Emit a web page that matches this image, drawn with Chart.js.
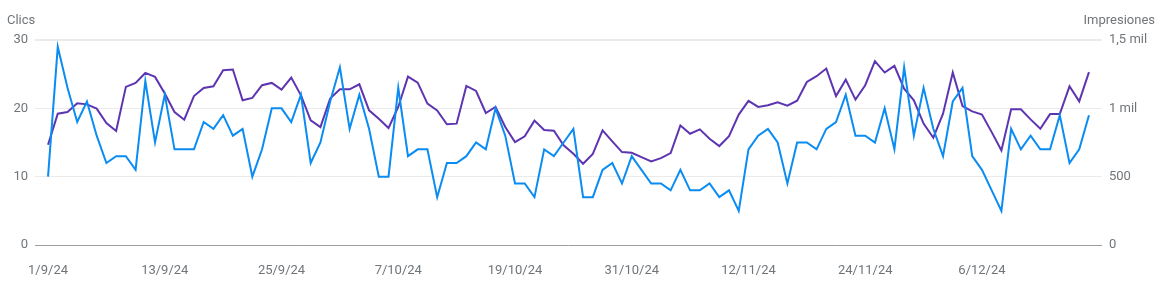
<!DOCTYPE html>
<html>
<head>
<meta charset="utf-8">
<script src="https://cdn.jsdelivr.net/npm/chart.js@4"></script>
<style>
  html, body { margin: 0; padding: 0; background: #fff; }
  #wrap { width: 1165px; height: 289px; position: relative; }
</style>
</head>
<body>
<div id="wrap"><canvas id="gscChart"></canvas></div>
<script>
// daily values, 1/9/24 .. 17/12/24
const clics = [10, 29, 23, 18, 21, 16, 12, 13, 13, 11,
  24, 15, 22, 14, 14, 14, 18, 17, 19, 16,
  17, 10, 14, 20, 20, 18, 22, 12, 15, 21,
  26, 17, 22, 17, 10, 10, 23, 13, 14, 14,
  7, 12, 12, 13, 15, 14, 20, 16, 9, 9,
  7, 14, 13, 15, 17, 7, 7, 11, 12, 9,
  13, 11, 9, 9, 8, 11, 8, 8, 9, 7,
  8, 5, 14, 16, 17, 15, 9, 15, 15, 14,
  17, 18, 22, 16, 16, 15, 20, 14, 26, 16,
  23, 17, 13, 21, 23, 13, 11, 8, 5, 17,
  14, 16, 14, 14, 19, 12, 14, 19];

const impresiones = [733, 961, 973, 1037, 1029, 998, 892, 834, 1157, 1186,
  1259, 1230, 1108, 973, 917, 1090, 1149, 1161, 1279, 1284,
  1059, 1076, 1169, 1186, 1137, 1225, 1095, 912, 863, 1071,
  1139, 1139, 1176, 985, 924, 856, 1010, 1232, 1188, 1034,
  985, 883, 888, 1164, 1127, 966, 1010, 863, 753, 795,
  910, 841, 836, 729, 667, 594, 667, 839, 758, 680,
  675, 643, 611, 636, 672, 875, 814, 846, 778, 724,
  797, 954, 1054, 1010, 1022, 1044, 1020, 1056, 1193, 1235,
  1291, 1090, 1210, 1064, 1169, 1345, 1262, 1311, 1144, 1059,
  888, 785, 961, 1262, 1017, 978, 954, 826, 692, 993,
  993, 919, 851, 958, 958, 1161, 1051, 1265];

const xTickLabels = ["1/9/24", "13/9/24", "25/9/24", "7/10/24", "19/10/24",
  "31/10/24", "12/11/24", "24/11/24", "6/12/24"];
const xTickEvery = 12;

const clicsTicks = [0, 10, 20, 30];
const impTicks = [0, 500, 1000, 1500];
const impTickLabels = ["0", "500", "1 mil", "1,5 mil"];

const days = clics.map((v, i) => i);

const FONT = { family: 'Roboto', size: 13 };
const GREY = '#70757a';

// axis titles above the plot
const axisTitles = {
  id: 'axisTitles',
  afterDraw(chart) {
    const c = chart.ctx;
    c.save();
    c.font = '13px Roboto';
    c.fillStyle = GREY;
    c.textBaseline = 'middle';
    c.textAlign = 'left';
    c.fillText('Clics', 7, 21);
    c.textAlign = 'right';
    c.fillText('Impresiones', 1155, 21);
    c.restore();
  }
};

const ctx = document.getElementById('gscChart').getContext('2d');
const gscChart = new Chart(ctx, {
  type: 'line',
  data: {
    labels: days,
    datasets: [{
      label: 'Clics',
      data: clics,
      yAxisID: 'y',
      borderColor: '#0a8cf2',
      borderWidth: 2,
      pointRadius: 0,
      tension: 0
    }, {
      label: 'Impresiones',
      data: impresiones,
      yAxisID: 'y2',
      borderColor: '#5e35b1',
      borderWidth: 2,
      pointRadius: 0,
      tension: 0
    }]
  },
  options: {
    responsive: true,
    maintainAspectRatio: false,
    animation: false,
    layout: { padding: { top: 40, left: 0, right: 0, bottom: 0 } },
    plugins: {
      legend: { display: false },
      tooltip: { enabled: false }
    },
    scales: {
      x: {
        type: 'linear',
        min: -1.34,
        max: days.length - 1 + 1.34,
        grid: { display: false },
        border: { display: false },
        afterBuildTicks: (scale) => {
          scale.ticks = xTickLabels.map((l, i) => ({ value: i * xTickEvery }));
        },
        afterFit: (scale) => { scale.height = 44; },
        ticks: {
          autoSkip: false,
          maxRotation: 0,
          padding: 10,
          color: GREY,
          font: FONT,
          callback: (v) => xTickLabels[v / xTickEvery]
        }
      },
      y: {
        position: 'left',
        min: 0,
        max: 30,
        afterBuildTicks: (scale) => {
          scale.ticks = clicsTicks.map(v => ({ value: v }));
        },
        afterFit: (scale) => { scale.width = 35; },
        border: { display: false },
        grid: {
          drawTicks: false,
          color: (c) => c.tick && c.tick.value === 0 ? '#9e9e9e' : '#ebebeb',
          lineWidth: (c) => c.tick && c.tick.value === 30 ? 2 : 1
        },
        ticks: { padding: 7, color: GREY, font: FONT }
      },
      y2: {
        position: 'right',
        min: 0,
        max: 1500,
        afterBuildTicks: (scale) => {
          scale.ticks = impTicks.map(v => ({ value: v }));
        },
        afterFit: (scale) => { scale.width = 63; },
        border: { display: false },
        grid: { display: false, drawTicks: false },
        ticks: {
          padding: 7,
          color: GREY,
          font: FONT,
          callback: (v) => impTickLabels[impTicks.indexOf(v)]
        }
      }
    }
  },
  plugins: [axisTitles]
});
</script>
</body>
</html>
